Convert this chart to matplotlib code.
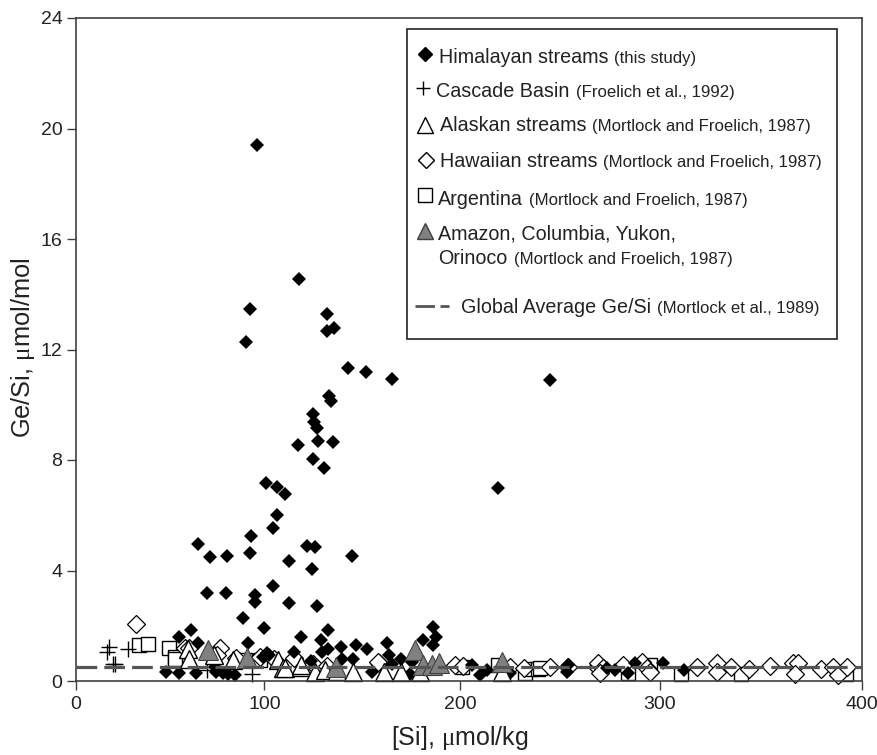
import numpy as np
import matplotlib
matplotlib.use('Agg')
import matplotlib.pyplot as plt
from matplotlib.patches import Rectangle
from matplotlib.lines import Line2D

plt.rcParams['font.family'] = ['Liberation Sans', 'DejaVu Sans']
plt.rcParams['mathtext.fontset'] = 'custom'
plt.rcParams['mathtext.rm'] = 'Liberation Sans'
plt.rcParams['mathtext.it'] = 'Liberation Serif'

# Himalayan streams
him_si = [95.9, 117.6, 92.1, 132, 132, 135.7, 90.2, 142.7, 151.8, 165, 245, 219,
          133.1, 134, 125, 125.3, 126.7, 127.4, 135, 117.1, 124.8, 130.3,
          100.6, 106.4, 110.3, 106.4, 104.5, 92.7, 64.6, 71.1, 79.9, 92.3,
          121.9, 125.9, 144.9, 112.5, 124.1, 69.5, 79.6, 94.9, 94.9, 104.5,
          112.5, 88.6, 99.6, 60.8, 54.5, 64.6, 91.1, 118.7, 115.3, 101.2, 99.3, 102.2,
          47.6, 54.5, 63.5, 74.3, 73.7, 80.8, 84.4, 78.1,
          126.9, 132.5, 129, 132.3, 129.2, 138.9, 146.6, 152.3, 139.8, 145.4, 123.9,
          162.7, 163.7, 170, 165.4, 154.8, 174.4, 186, 187.7, 180.9, 186, 175.2,
          205.9, 210, 213.4, 225, 254.2, 253.3, 273.4, 277.5, 287.5, 283.8, 301.7, 312]
him_gesi = [19.41, 14.55, 13.47, 13.3, 12.66, 12.78, 12.26, 11.33, 11.19, 10.93, 10.9, 7.0,
            10.32, 10.15, 9.65, 9.39, 9.15, 8.69, 8.66, 8.53, 8.05, 7.72,
            7.17, 7.03, 6.76, 6.01, 5.55, 5.26, 4.95, 4.48, 4.52, 4.63,
            4.9, 4.84, 4.52, 4.33, 4.04, 3.2, 3.2, 3.11, 2.85, 3.44,
            2.83, 2.27, 1.91, 1.84, 1.58, 1.39, 1.36, 1.59, 1.06, 1.03, 0.88, 0.94,
            0.34, 0.28, 0.28, 0.34, 0.52, 0.25, 0.21, 0.28,
            2.71, 1.85, 1.48, 1.15, 1.04, 1.22, 1.3, 1.15, 0.79, 0.8, 0.73,
            1.36, 0.94, 0.79, 0.62, 0.34, 0.24, 1.94, 1.6, 1.48, 1.3, 0.7,
            0.58, 0.22, 0.4, 0.28, 0.58, 0.34, 0.46, 0.4, 0.64, 0.28, 0.66, 0.4]

# Cascade Basin
cas_si = [17.5, 16.3, 19.5, 20.7, 27.6, 93.2, 69.3]
cas_gesi = [1.22, 1.06, 0.6, 0.6, 1.15, 0.24, 0.4]

# Alaskan streams
ala_si = [59.6, 60.1, 73, 83.4, 106.8, 109.7, 110.3, 118.9, 118.5, 125.7, 130.8, 137,
          145.4, 161.2, 170, 179.3, 221]
ala_gesi = [1.17, 0.79, 0.94, 0.76, 0.76, 0.47, 0.47, 0.52, 0.58, 0.34, 0.4, 0.36,
            0.34, 0.34, 0.34, 0.34, 0.34]

# Hawaiian streams
haw_si = [31.7, 76.4, 57.8, 97.6, 60, 75, 85, 105, 115, 125, 132, 158.7, 158.3,
          197.4, 201.7, 225, 232, 245, 254, 268.4, 269.2, 271.7, 270, 281.7, 290.9,
          293.4, 295, 318.4, 328, 328.3, 335.3, 344.2, 354.5, 366, 368.5, 366.9,
          379.5, 385.8, 388, 392.4]
haw_gesi = [2.05, 1.18, 1.19, 0.87, 1.2, 0.95, 0.85, 0.8, 0.85, 0.6, 0.55, 0.64, 0.7,
            0.58, 0.54, 0.52, 0.46, 0.52, 0.52, 0.52, 0.64, 0.46, 0.28, 0.58, 0.7,
            0.46, 0.34, 0.52, 0.66, 0.34, 0.52, 0.42, 0.54, 0.64, 0.64, 0.24,
            0.42, 0.5, 0.22, 0.5]

# Argentina
arg_si = [33.4, 38.4, 49.5, 52.5, 52.5, 89.7, 97.6, 200.9, 219, 232.5, 235, 239.1,
          240, 283.9, 295, 310.3, 340, 392]
arg_gesi = [1.3, 1.35, 1.21, 0.88, 0.79, 0.76, 0.76, 0.52, 0.58, 0.28, 0.43, 0.42,
            0.47, 0.29, 0.58, 0.25, 0.25, 0.25]

# Amazon, Columbia, Yukon, Orinoco
riv_si = [70.2, 90.6, 136.5, 177, 181.1, 185.6, 189.3, 221.2]
riv_gesi = [1.12, 0.82, 0.52, 1.12, 0.58, 0.58, 0.65, 0.7]

global_gesi = 0.5

x_ticks = [0, 100, 200, 300, 400]
y_ticks = [0, 4, 8, 12, 16, 20, 24]
# the printed x axis is not quite even, these are its tick positions in pixels
x_tick_px = [76, 264.5, 460, 660, 862]

W, H = 878, 755
dark = '#404040'


def fx(v):
    return np.interp(v, x_ticks, x_tick_px)


def fx_inv(p):
    return np.interp(p, x_tick_px, x_ticks)


fig = plt.figure(figsize=(W / 100, H / 100), dpi=100)
ax = fig.add_axes([76 / W, 1 - 681 / H, (862 - 76) / W, (681 - 18) / H])
ax.set_xscale('function', functions=(fx, fx_inv))

ax.plot(arg_si, arg_gesi, 's', ms=10, mfc='white', mec='black', mew=1, clip_on=False, zorder=2)
ax.plot(cas_si, cas_gesi, '+', ms=11, color='black', mew=1, clip_on=False, zorder=2.1)
ax.plot(haw_si, haw_gesi, 'D', ms=9.5, mfc='white', mec='black', mew=0.9, clip_on=False, zorder=2.2)
ax.plot(him_si, him_gesi, 'D', ms=7.6, color='black', mew=0, clip_on=False, zorder=2.3)
ax.plot(ala_si, ala_gesi, '^', ms=13, mfc='white', mec='black', mew=1, clip_on=False, zorder=2.4)
ax.plot(riv_si, riv_gesi, '^', ms=15, mfc='#808080', mec='#404040', mew=0.8, clip_on=False, zorder=2.5)
ax.plot([0, 400], [global_gesi, global_gesi], color='#555555', lw=2.3,
        dashes=(6.5, 2.2), zorder=3)

ax.set_xlim(0, 400)
ax.set_ylim(0, 24)
ax.set_xticks(x_ticks)
ax.set_yticks(y_ticks)
ax.minorticks_off()
ax.tick_params(axis='x', length=6.5, width=1, color=dark, labelsize=14, pad=4, labelcolor='#222222')
ax.tick_params(axis='y', length=6.8, width=1, color=dark, labelsize=14, pad=3, labelcolor='#222222')
for s in ax.spines.values():
    s.set_color(dark)
    s.set_linewidth(1.2)

fig.text(460 / W, 1 - 745 / H, r'[Si], $\mu$mol/kg', fontsize=18, color='#222222', ha='center', va='baseline')
fig.text(23 / W, 1 - 348 / H, r'Ge/Si, $\mu$mol/mol', fontsize=18.3, color='#222222', ha='center',
         va='center', rotation=90)

# hand made legend box, positions in pixels of the figure
ax.add_patch(Rectangle((407 / W, 1 - 339 / H), 430 / W, 310 / H, transform=fig.transFigure,
                       fc='white', ec='#222222', lw=1.2, zorder=5, clip_on=False))

legend_rows = [
    ('Himalayan streams', '(this study)', 439, 63),
    ('Cascade Basin', '(Froelich et al., 1992)', 436.5, 97),
    ('Alaskan streams', '(Mortlock and Froelich, 1987)', 440, 131),
    ('Hawaiian streams', '(Mortlock and Froelich, 1987)', 440, 167),
    ('Argentina', '(Mortlock and Froelich, 1987)', 438, 205),
    ('Amazon, Columbia, Yukon,', '', 438, 240),
    ('Orinoco', '(Mortlock and Froelich, 1987)', 438.5, 264),
    ('Global Average Ge/Si', '(Mortlock et al., 1989)', 461, 313),
]
renderer = fig.canvas.get_renderer()
for main, cite, px, py in legend_rows:
    t = ax.text(px / W, 1 - py / H, main, transform=fig.transFigure, fontsize=14.2, color='#222222',
                va='baseline', zorder=6)
    if cite:
        end = t.get_window_extent(renderer).x1
        ax.text((end + 6) / W, 1 - py / H, cite, transform=fig.transFigure, fontsize=12.1,
                color='#222222', va='baseline', zorder=6)

legend_marks = [
    ('D', 7.2, 'black', 'black', 425, 54),
    ('+', 9.5, 'black', 'black', 423, 88),
    ('^', 11, 'white', 'black', 425.5, 125),
    ('D', 8, 'white', 'black', 425.7, 160),
    ('s', 10.5, 'white', 'black', 425.3, 195),
    ('^', 12, '#808080', '#404040', 425.5, 231),
]
for m, ms, fc, ec, px, py in legend_marks:
    ax.add_line(Line2D([px / W], [1 - py / H], marker=m, ms=ms, mfc=fc, mec=ec, mew=1,
                       color=ec, transform=fig.transFigure, zorder=6, clip_on=False))
ax.add_line(Line2D([415 / W, 449 / W], [1 - 306 / H] * 2, color='#555555', lw=2, dashes=(7, 2),
                   transform=fig.transFigure, zorder=6, clip_on=False))

fig.savefig('out.png', dpi=100)
